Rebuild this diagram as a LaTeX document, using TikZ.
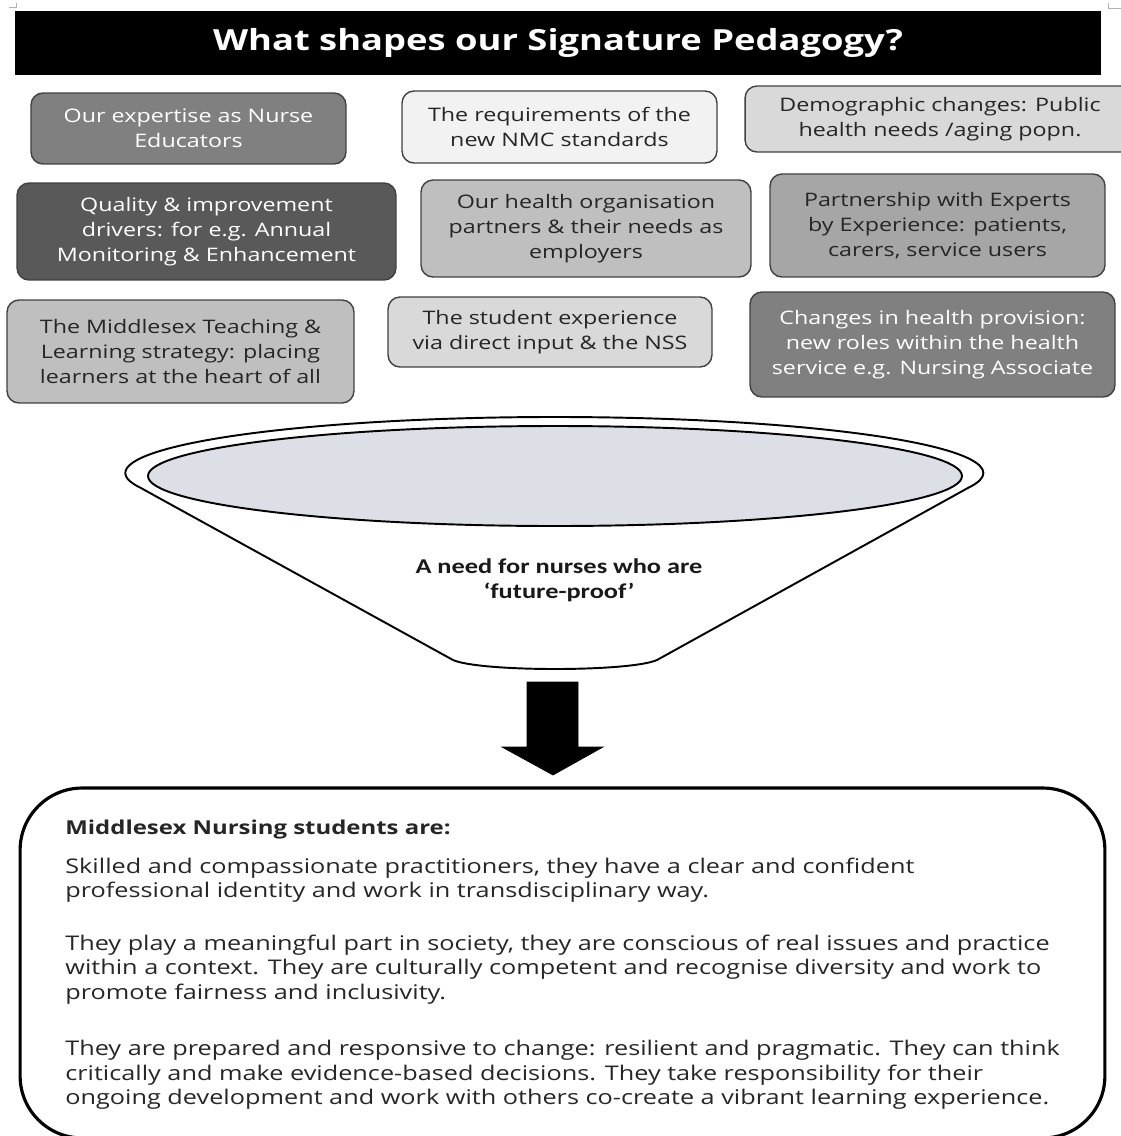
\documentclass[tikz,border=0pt]{standalone}
\usepackage{fontspec}
\setmainfont{Open Sans}[FakeStretch=1.25]
\newfontfamily\funnelfont{Carlito}[FakeStretch=1.25]
\usetikzlibrary{calc}
\definecolor{rimblue}{RGB}{220,224,230}
\tikzset{
	factor/.style={draw=black!75, line width=0.8pt, rounded corners=6.8pt, align=center, inner sep=0pt, text=black!85, font=\fontsize{10.6}{14.2}\selectfont},
	darkfactor/.style={factor, text=white},
	funnelline/.style={line width=1.1pt, line join=round},
}

\begin{document}
\begin{tikzpicture}[x=0.02cm, y=-0.02cm]
			%%%%% START %%%%%
			
			\useasboundingbox (0,0) rectangle (1121,1136);
			\clip (0,0) rectangle (1121,1136);
			
			\draw[line width=0.4pt, color=black!30] (9,7) -- (16,7) -- (16,3);
			\draw[line width=0.4pt, color=black!30] (1108,3) -- (1108,8) -- (1121,8);
			
			\node[fill=black, minimum width=21.72cm, minimum height=1.28cm, inner sep=0pt, text=white, font=\bfseries\fontsize{16.55}{20}\selectfont] (title) at (558,43) {What shapes our Signature Pedagogy?};
			
			\node[darkfactor, fill=black!50, minimum width=6.30cm, minimum height=1.42cm] (expertise) at (188.5,128.5) {Our expertise as Nurse\\Educators};
			\node[factor, fill=black!5, minimum width=6.30cm, minimum height=1.44cm] (nmc) at (559.5,127) {The requirements of the\\new NMC standards};
			\node[factor, fill=black!15, minimum width=7.80cm, minimum height=1.32cm] (demography) at (940,119) {Demographic changes: Public\\health needs /aging popn.};
			
			\node[darkfactor, fill=black!65, minimum width=7.58cm, minimum height=1.94cm] (quality) at (206.5,231.5) {Quality \& improvement\\drivers: for e.g. Annual\\Monitoring \& Enhancement};
			\node[factor, fill=black!25, minimum width=6.60cm, minimum height=1.94cm] (partners) at (586,228.5) {Our health organisation\\partners \& their needs as\\employers};
			\node[factor, fill=black!35, minimum width=6.70cm, minimum height=2.06cm] (experts) at (937.5,225.5) {Partnership with Experts\\by Experience: patients,\\carers, service users};
			
			\node[factor, fill=black!25, minimum width=6.94cm, minimum height=2.06cm] (strategy) at (180.5,351.5) {The Middlesex Teaching \&\\Learning strategy: placing\\learners at the heart of all};
			\node[factor, fill=black!15, minimum width=6.48cm, minimum height=1.40cm] (student) at (550,332) {The student experience\\via direct input \& the NSS};
			\node[darkfactor, fill=black!50, minimum width=7.30cm, minimum height=2.10cm] (provision) at (932.5,344.5) {Changes in health provision:\\new roles within the health\\service e.g. Nursing Associate};
			
			% funnel
			\draw[funnelline, fill=white] (140,487.5) arc[start angle=165, end angle=375, x radius=429, y radius=56] -- (657,660) .. controls (630,672) and (480,672) .. (453,660) -- cycle;
			\draw[funnelline, fill=rimblue] (555,476) ellipse [x radius=407, y radius=50];
			\node[align=center, text=black!90, font=\funnelfont\bfseries\fontsize{12}{14.2}\selectfont] (need) at (559,580) {A need for nurses who are\\‘future-proof’};
			
			\draw[fill=black] (527,682) -- (578,682) -- (578,747) -- (603,747) -- (553,775) -- (502,747) -- (527,747) -- cycle;
			
			\node[draw, line width=1.8pt, rounded corners=1.24cm, minimum width=21.7cm, minimum height=7cm] (outcome) at (562.5,963) {};
			\node[anchor=north west, align=left, inner sep=0pt, text=black!85, font=\fontsize{11.5}{13.8}\selectfont] (traits) at (65,820) {{\bfseries\fontsize{10.9}{13.8}\selectfont Middlesex Nursing students are:}\\[8pt]
				Skilled and compassionate practitioners, they have a clear and confident\\
				professional identity and work in transdisciplinary way.\\[16.5pt]
				They play a meaningful part in society, they are conscious of real issues and practice\\
				within a context. They are culturally competent and recognise diversity and work to\\
				promote fairness and inclusivity.\\[18.5pt]
				They are prepared and responsive to change: resilient and pragmatic. They can think\\
				critically and make evidence-based decisions. They take responsibility for their\\
				ongoing development and work with others co-create a vibrant learning experience.};
			
			%%%%% END %%%%%
\end{tikzpicture}
\end{document}
